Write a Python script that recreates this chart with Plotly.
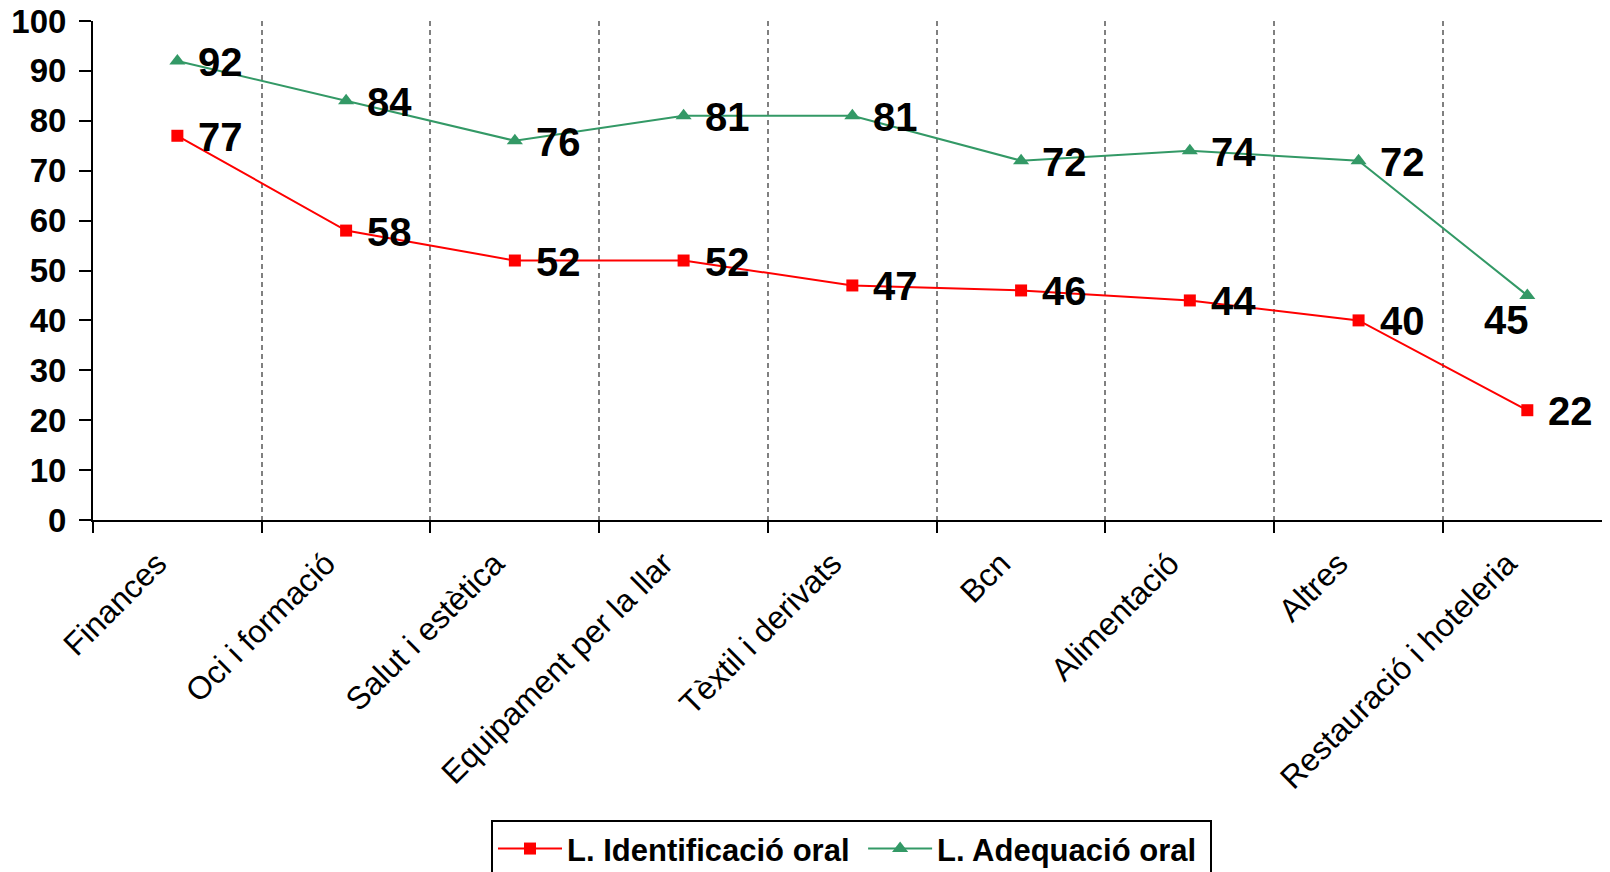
import plotly.graph_objects as go

categories = ["Finances", "Oci i formació", "Salut i estètica", "Equipament per la llar",
              "Tèxtil i derivats", "Bcn", "Alimentació", "Altres", "Restauració i hoteleria"]
identificacio = [77, 58, 52, 52, 47, 46, 44, 40, 22]
adequacio = [92, 84, 76, 81, 81, 72, 74, 72, 45]
# where each green label sits relative to its marker
adequacio_label_side = ["right"] * 8 + ["below-left"]

FONT = "Arial, Liberation Sans, sans-serif"
LABEL_FONT = dict(family=FONT, size=40, color="black", weight="bold")

fig = go.Figure()
fig.add_trace(go.Scatter(
    x=categories, y=identificacio, name="L. Identificació oral\u00a0",
    mode="lines+markers",
    line=dict(color="#FF0000", width=2),
    marker=dict(symbol="square", size=12, color="#FF0000"),
    cliponaxis=False,
))
fig.add_trace(go.Scatter(
    x=categories, y=adequacio, name="L. Adequació oral\u00a0",
    mode="lines+markers",
    line=dict(color="#339966", width=2),
    marker=dict(symbol="triangle-up", size=14, color="#339966"),
    cliponaxis=False,
))

for c, v in zip(categories, identificacio):
    fig.add_annotation(x=c, y=v, text=str(v), showarrow=False,
                       xanchor="left", yanchor="middle", xshift=19, yshift=-1,
                       font=LABEL_FONT)
for c, v, side in zip(categories, adequacio, adequacio_label_side):
    if side == "right":
        fig.add_annotation(x=c, y=v, text=str(v), showarrow=False,
                           xanchor="left", yanchor="middle", xshift=19, yshift=-1,
                           font=LABEL_FONT)
    else:
        fig.add_annotation(x=c, y=v, text=str(v), showarrow=False,
                           xanchor="right", yanchor="top", xshift=4, yshift=-1,
                           font=LABEL_FONT)

# The page body has an 8px default margin, so the figure is sized 8px smaller.
fig.update_layout(
    width=1602, height=864,
    margin=dict(l=85, r=0, t=13, b=352, autoexpand=False),
    plot_bgcolor="white", paper_bgcolor="white",
    font=dict(family=FONT, color="black"),
    showlegend=True,
    legend=dict(
        orientation="h", x=0.5, xanchor="center", y=-0.601, yanchor="top",
        bordercolor="black", borderwidth=2, bgcolor="white",
        font=dict(family=FONT, size=31, color="black", weight="bold"),
        itemwidth=64,
    ),
)
fig.update_xaxes(
    type="category", range=[-0.5, 8.49], tickson="boundaries", automargin=False,
    showline=True, linecolor="black", linewidth=2,
    ticks="outside", ticklen=11, tickwidth=2, tickcolor="black",
    tickangle=-45, tickfont=dict(family=FONT, size=32, color="black"),
    ticklabelstandoff=10, ticklabelshift=-20,
    showgrid=True, gridcolor="#808080", gridwidth=2, griddash="5px,4px",
    zeroline=False,
)
fig.update_yaxes(
    range=[0, 100], dtick=10, tick0=0, automargin=False,
    showline=True, linecolor="black", linewidth=2,
    ticks="outside", ticklen=12, tickwidth=2, tickcolor="black",
    tickfont=dict(family=FONT, size=33, color="black", weight="bold"),
    ticklabelstandoff=6, ticklabeloverflow="allow",
    showgrid=False, zeroline=False,
)

fig.write_html("out.html")
